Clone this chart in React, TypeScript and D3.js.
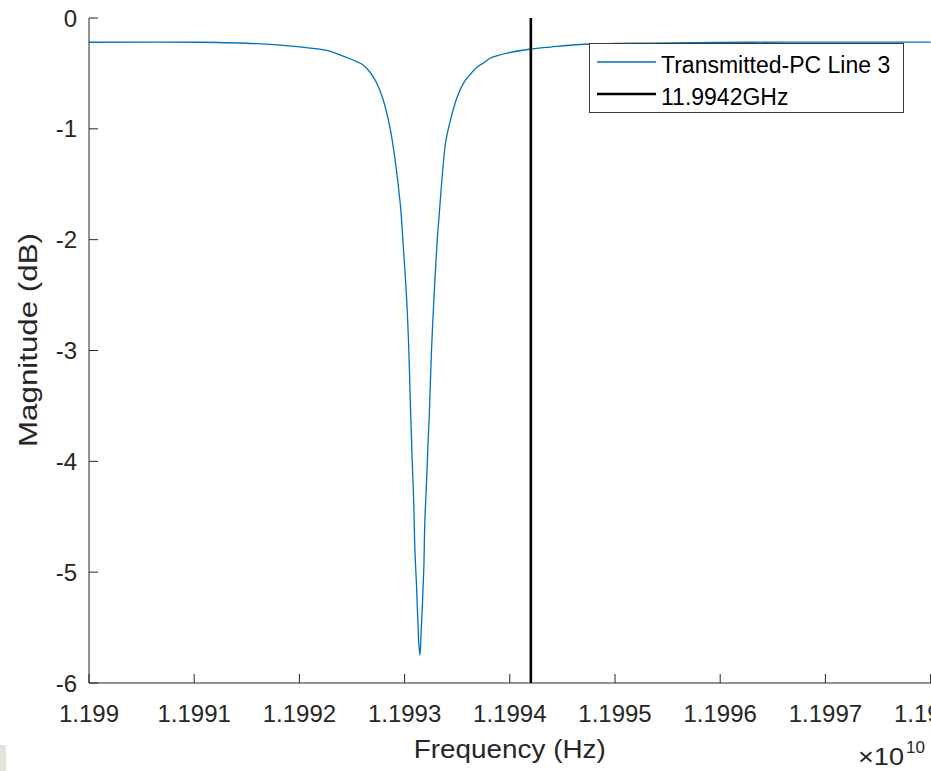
import React from "react";
import * as d3 from "d3";

// Frequency (GHz) and transmitted magnitude (dB)
const freqGHz: number[] = [
  11.99, 11.99106, 11.9916, 11.99198, 11.99227, 11.99239, 11.99251, 11.9926,
  11.99267, 11.99273, 11.99279, 11.99286, 11.99291, 11.99296, 11.99299,
  11.99302, 11.99304, 11.993056, 11.993072, 11.993087, 11.993097, 11.993113,
  11.993125, 11.993135, 11.993146, 11.993158, 11.99317, 11.993183, 11.993192,
  11.993208, 11.993224, 11.993234, 11.993256, 11.993278, 11.99331, 11.993325,
  11.993357, 11.993389, 11.993436, 11.9935, 11.99356, 11.993595, 11.99369,
  11.99375, 11.993817, 11.993978, 11.994187, 11.994387, 11.99467, 11.99534,
  11.99629, 11.99724, 11.998,
];
const magnitudeDb: number[] = [
  -0.219, -0.219, -0.232, -0.259, -0.295, -0.334, -0.379, -0.42, -0.487,
  -0.578, -0.72, -0.984, -1.282, -1.688, -2.094, -2.545, -2.996, -3.52,
  -3.989, -4.377, -4.774, -5.117, -5.415, -5.641, -5.749, -5.523, -5.28,
  -4.955, -4.558, -4.197, -3.809, -3.601, -2.996, -2.545, -2.004, -1.823,
  -1.435, -1.128, -0.921, -0.713, -0.587, -0.542, -0.442, -0.406, -0.361,
  -0.316, -0.282, -0.262, -0.239, -0.226, -0.219, -0.217, -0.217,
];
const markerGHz = 11.9942;
const xTickValues: number[] = [11.99, 11.991, 11.992, 11.993, 11.994, 11.995, 11.996, 11.997, 11.998];
const xTickLabels: string[] = ["1.199", "1.1991", "1.1992", "1.1993", "1.1994", "1.1995", "1.1996", "1.1997", "1.1998"];
const yTickValues: number[] = [0, -1, -2, -3, -4, -5, -6];
const yTickLabels: string[] = ["0", "-1", "-2", "-3", "-4", "-5", "-6"];
const legendLabels: string[] = ["Transmitted-PC Line 3", "11.9942GHz"];

const W = 931;
const H = 771;
const left = 89;
const right = 930.6;
const top = 18;
const bottom = 683;
const TXT = "#262626";
const FONT = "'Liberation Sans', Arial, Helvetica, sans-serif";

export default function App() {
  const x = d3.scaleLinear().domain([11.99, 11.998]).range([left, right]);
  const y = d3.scaleLinear().domain([-6, 0]).range([bottom, top]);
  const pts: [number, number][] = freqGHz.map((f, i) => [f, magnitudeDb[i]]);
  const line = d3
    .line<[number, number]>()
    .x((d) => x(d[0]))
    .y((d) => y(d[1]))
    .curve(d3.curveCatmullRom.alpha(0.5));
  const tick = 9;

  return (
    <svg
      width={W}
      height={H}
      style={{ position: "absolute", left: 0, top: 0, background: "#fff" }}
      fontFamily={FONT}
    >
      <rect x={0} y={0} width={W} height={H} fill="#fff" />
      <rect x={0} y={745} width={6} height={26} fill="#e2e2da" />

      {/* data curve */}
      <path d={line(pts) || ""} fill="none" stroke="#0072BD" strokeWidth={1.3} />
      {/* marker line */}
      <line
        x1={x(markerGHz)}
        x2={x(markerGHz)}
        y1={top}
        y2={bottom}
        stroke="#000"
        strokeWidth={2.6}
      />

      {/* axes */}
      <line x1={left} x2={left} y1={top} y2={bottom} stroke={TXT} strokeWidth={1} />
      <line x1={left} x2={W} y1={bottom} y2={bottom} stroke={TXT} strokeWidth={1} />
      {yTickValues.map((v, i) => (
        <g key={"y" + i}>
          <line x1={left} x2={left + tick} y1={y(v)} y2={y(v)} stroke={TXT} strokeWidth={1} />
          <text
            x={77}
            y={y(v)}
            dy="0.36em"
            textAnchor="end"
            fontSize={24}
            fill={TXT}
          >
            {yTickLabels[i]}
          </text>
        </g>
      ))}
      {xTickValues.map((v, i) => (
        <g key={"x" + i}>
          <line x1={x(v)} x2={x(v)} y1={bottom} y2={bottom - tick} stroke={TXT} strokeWidth={1} />
          <text x={x(v)} y={722} textAnchor="middle" fontSize={24} fill={TXT}>
            {xTickLabels[i]}
          </text>
        </g>
      ))}

      {/* axis labels */}
      <text x={(left + right) / 2} y={758} textAnchor="middle" fontSize={25} fill={TXT} textLength={192} lengthAdjust="spacingAndGlyphs">
        Frequency (Hz)
      </text>
      <text
        transform={`translate(37,340) rotate(-90)`}
        textAnchor="middle"
        fontSize={25}
        fill={TXT}
        textLength={214}
        lengthAdjust="spacingAndGlyphs"
      >
        Magnitude (dB)
      </text>
      <text x={858} y={765} style={{ fontSize: "23px" }} fill={TXT} textLength={46} lengthAdjust="spacingAndGlyphs">
        ×10
      </text>
      <text x={906} y={753} style={{ fontSize: "17px" }} fill={TXT}>
        10
      </text>

      {/* legend */}
      <rect x={589.5} y={43.5} width={314} height={69} fill="#fff" stroke="#3a3a3a" strokeWidth={1} />
      <line x1={597} x2={656} y1={62} y2={62} stroke="#0072BD" strokeWidth={1.3} />
      <line x1={597} x2={656} y1={94} y2={94} stroke="#000" strokeWidth={2.6} />
      <text x={661} y={72.5} fontSize={23} fill="#000">
        {legendLabels[0]}
      </text>
      <text x={661} y={105} fontSize={23} fill="#000">
        {legendLabels[1]}
      </text>
    </svg>
  );
}
